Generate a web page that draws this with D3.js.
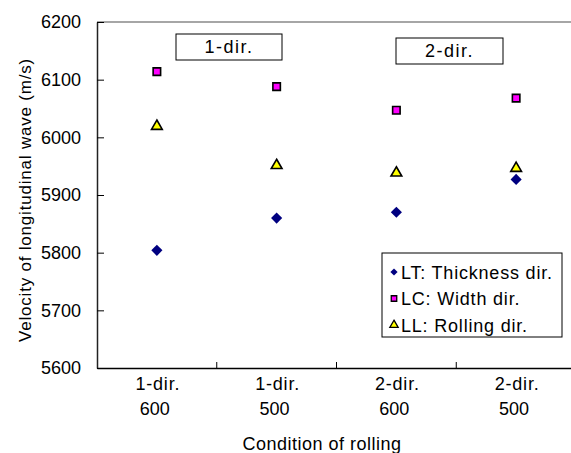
<!DOCTYPE html>
<html lang="en">
<head>
  <meta charset="UTF-8">
  <title>Velocity of longitudinal wave</title>
  <script src="https://d3js.org/d3.v7.min.js"></script>
  <style>
    body { margin: 0; background: #fff; }
    svg { font-family: "Liberation Sans", Arial, sans-serif; }
  </style>
</head>
<body>
  <svg id="chart"></svg>
  <script>
    const conditions = ["1-dir.|600", "1-dir.|500", "2-dir.|600", "2-dir.|500"];
    const ltValues = [5804, 5860, 5870, 5927];   // LT: Thickness dir.
    const lcValues = [6114, 6088, 6047, 6068];   // LC: Width dir.
    const llValues = [6021, 5953, 5940, 5948];   // LL: Rolling dir.
    const yTicks = [5600, 5700, 5800, 5900, 6000, 6100, 6200];
    const groupLabels = ["1-dir.", "2-dir."];

    const width = 571, height = 453;
    const svg = d3.select("#chart").attr("width", width).attr("height", height);

    const x = d3.scaleBand().domain(conditions).range([97, 576]);
    const y = d3.scaleLinear().domain([5600, 6200]).range([368, 22]);

    // top frame line
    svg.append("line")
      .attr("x1", 97).attr("x2", width)
      .attr("y1", y(6200)).attr("y2", y(6200))
      .attr("stroke", "#888").attr("stroke-width", 1.5);

    // y axis
    const yAxis = svg.append("g")
      .attr("transform", "translate(97,0)")
      .call(d3.axisLeft(y).tickValues(yTicks).tickFormat(d3.format("d"))
        .tickSizeInner(-7).tickSizeOuter(0).tickPadding(16));
    yAxis.select(".domain").attr("stroke", "#222").attr("stroke-width", 1.5);
    yAxis.selectAll("text").attr("font-size", 18).attr("fill", "#000")
      .attr("font-family", "Liberation Sans, Arial, sans-serif");

    // x axis
    const xAxis = svg.append("g")
      .attr("transform", "translate(0,368)")
      .call(d3.axisBottom(x).tickSize(0).tickFormat(""));
    xAxis.select(".domain").attr("stroke", "#000").attr("stroke-width", 1.5);
    xAxis.selectAll(".tick").remove();
    xAxis.selectAll(".sep")
      .data(conditions.slice(1))
      .enter().append("line")
      .attr("x1", d => x(d)).attr("x2", d => x(d))
      .attr("y1", 0).attr("y2", -6)
      .attr("stroke", "#000");

    const tickLabels = svg.append("g")
      .selectAll("text")
      .data(conditions)
      .enter().append("text")
      .attr("text-anchor", "middle")
      .attr("font-size", 18);
    tickLabels.append("tspan").attr("x", d => x(d) + x.bandwidth() / 2 + 1).attr("y", 390)
      .attr("letter-spacing", 0.8)
      .text(d => d.split("|")[0]);
    tickLabels.append("tspan").attr("x", d => x(d) + x.bandwidth() / 2 - 2).attr("y", 415)
      .text(d => d.split("|")[1]);

    // axis titles
    svg.append("text")
      .attr("x", 322).attr("y", 450)
      .attr("text-anchor", "middle")
      .attr("font-size", 18).attr("letter-spacing", 0.5)
      .text("Condition of rolling");
    svg.append("text")
      .attr("transform", "translate(31,200) rotate(-90)")
      .attr("text-anchor", "middle")
      .attr("font-size", 17).attr("letter-spacing", 0.8)
      .text("Velocity of longitudinal wave (m/s)");

    // group label boxes
    const groupBoxes = [
      { label: groupLabels[0], x0: 176, x1: 282, y0: 34, y1: 60 },
      { label: groupLabels[1], x0: 396, x1: 503, y0: 38, y1: 64 }
    ];
    const gb = svg.selectAll(".gbox").data(groupBoxes).enter().append("g");
    gb.append("rect")
      .attr("x", d => d.x0).attr("y", d => d.y0)
      .attr("width", d => d.x1 - d.x0).attr("height", d => d.y1 - d.y0)
      .attr("fill", "#fff").attr("stroke", "#000").attr("stroke-width", 1);
    gb.append("text")
      .attr("x", d => (d.x0 + d.x1) / 2).attr("y", d => d.y1 - 7)
      .attr("text-anchor", "middle").attr("font-size", 18).attr("letter-spacing", 1.5)
      .text(d => d.label);

    // markers
    const cx = d => x(d) + x.bandwidth() / 2;
    const diamond = size => d3.symbol().type(d3.symbolSquare).size(size)();
    const square = size => d3.symbol().type(d3.symbolSquare).size(size)();
    const triangle = size => d3.symbol().type(d3.symbolTriangle).size(size)();

    svg.append("g").selectAll("path")
      .data(conditions.map((c, i) => [c, ltValues[i]]))
      .enter().append("path")
      .attr("d", diamond(62))
      .attr("transform", d => `translate(${cx(d[0])},${y(d[1])}) rotate(45)`)
      .attr("fill", "#000080");
    svg.append("g").selectAll("path")
      .data(conditions.map((c, i) => [c, lcValues[i]]))
      .enter().append("path")
      .attr("d", square(56))
      .attr("transform", d => `translate(${cx(d[0])},${y(d[1])})`)
      .attr("fill", "#ff00ff").attr("stroke", "#000").attr("stroke-width", 1.6);
    svg.append("g").selectAll("path")
      .data(conditions.map((c, i) => [c, llValues[i]]))
      .enter().append("path")
      .attr("d", triangle(50))
      .attr("transform", d => `translate(${cx(d[0])},${y(d[1]) + 1})`)
      .attr("fill", "#ffff00").attr("stroke", "#000").attr("stroke-width", 1.6);

    // legend
    const legendItems = [
      { label: "LT: Thickness dir.", d: diamond(26), rot: 45, fill: "#000080", stroke: "none" },
      { label: "LC: Width dir.", d: square(30), rot: 0, fill: "#ff00ff", stroke: "#000" },
      { label: "LL: Rolling dir.", d: triangle(30), rot: 0, fill: "#ffff00", stroke: "#000" }
    ];
    const legend = svg.append("g");
    legend.append("rect")
      .attr("x", 382).attr("y", 253).attr("width", 180).attr("height", 84)
      .attr("fill", "#fff").attr("stroke", "#000").attr("stroke-width", 1);
    const li = legend.selectAll(".li").data(legendItems).enter().append("g")
      .attr("transform", (d, i) => `translate(394,${272 + i * 26.5})`);
    li.append("path")
      .attr("d", d => d.d)
      .attr("transform", d => `rotate(${d.rot})`)
      .attr("fill", d => d.fill).attr("stroke", d => d.stroke).attr("stroke-width", 1.3);
    li.append("text")
      .attr("x", 7).attr("y", 6.5)
      .attr("font-size", 18).attr("letter-spacing", 0.8)
      .text(d => d.label);
  </script>
</body>
</html>
